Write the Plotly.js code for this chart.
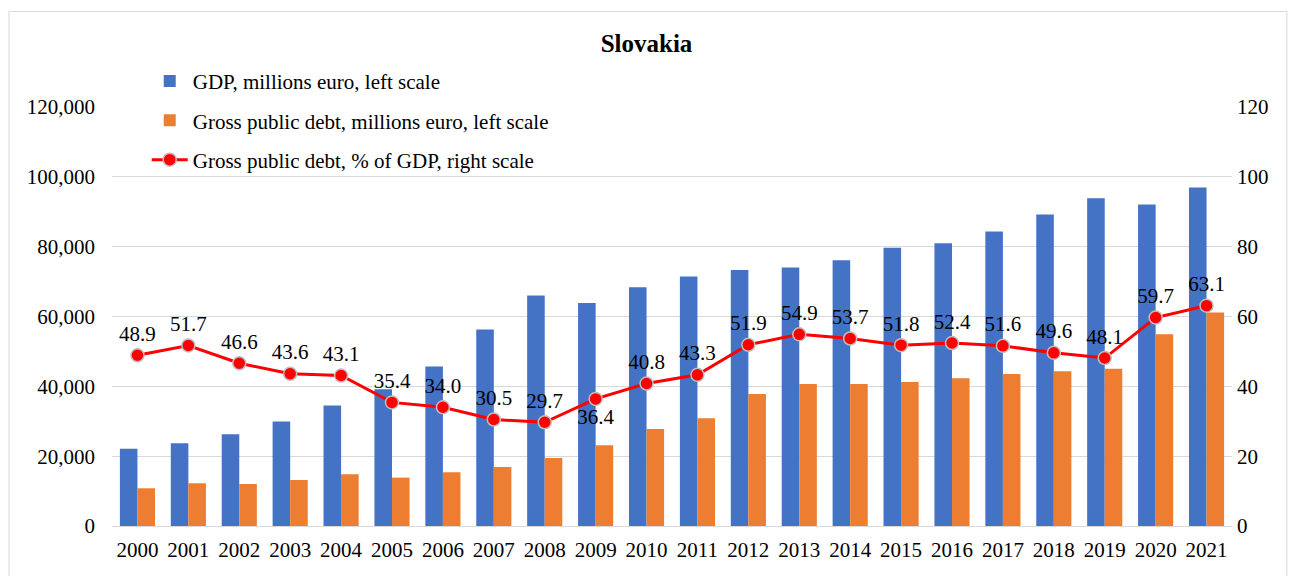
<!DOCTYPE html>
<html>
<head>
<meta charset="utf-8">
<script src="https://cdn.plot.ly/plotly-3.0.1.min.js"></script>
<style>html,body{margin:0;padding:0;background:#fff;}#chart{width:1293px;height:576px;}</style>
</head>
<body>
<div id="chart"></div>
<script>
const years = ['2000','2001','2002','2003','2004','2005','2006','2007','2008','2009','2010','2011','2012','2013','2014','2015','2016','2017','2018','2019','2020','2021'];
const gdp = [22150,23700,26270,29900,34480,39170,45650,56250,66000,63900,68400,71430,73350,74010,76130,79660,81000,84330,89200,93900,92060,96930];
const debt = [10800,12240,12030,13180,14800,13850,15380,16900,19480,23120,27800,30860,37820,40690,40690,41260,42320,43550,44330,45070,54930,61120];
const debtPct = [48.9,51.7,46.6,43.6,43.1,35.4,34.0,30.5,29.7,36.4,40.8,43.3,51.9,54.9,53.7,51.8,52.4,51.6,49.6,48.1,59.7,63.1];
const labelPos = debtPct.map((v,i)=> years[i]==='2009' ? 'bottom center' : 'top center');

const FAM = 'Liberation Serif, Times New Roman, serif';
const font = {family:FAM, size:21, color:'#000'};

const traces = [
  {type:'bar', x:years, y:gdp, name:'GDP, millions euro, left scale',
   marker:{color:'#4472C4'}, legendgroup:'a', hoverinfo:'y'},
  {type:'bar', x:years, y:debt, name:'Gross public debt, millions euro, left scale',
   marker:{color:'#ED7D31'}, legendgroup:'b', hoverinfo:'y'},
  {type:'scatter', mode:'lines+markers+text', x:years, y:debtPct, yaxis:'y2',
   name:'Gross public debt, % of GDP, right scale', legendgroup:'c',
   line:{color:'#FF0000', width:3},
   marker:{color:'#FF0000', size:13, line:{color:'#BFBFBF', width:1.5}},
   texttemplate:'%{y:.1f}', textposition:labelPos,
   textfont:font, cliponaxis:false}
];

const layout = {
  width:1293, height:576,
  margin:{l:112, r:61, t:107, b:50, autoexpand:false},
  paper_bgcolor:'#fff', plot_bgcolor:'#fff',
  font:font,
  title:{text:'<b>Slovakia</b>', x:0.5, xanchor:'center', y:0.925, yanchor:'middle',
         font:{family:FAM, size:25, color:'#000'}},
  barmode:'group', bargap:0.31, bargroupgap:0,
  showlegend:true,
  legend:{x:0.031, y:1.11, xanchor:'left', yanchor:'top', bgcolor:'rgba(0,0,0,0)',
          font:font, tracegroupgap:9, traceorder:'grouped', itemwidth:36},
  xaxis:{type:'category', range:[-0.5, years.length-0.5], showgrid:false, showline:true,
         linecolor:'#D9D9D9', linewidth:1, ticks:'', tickfont:font, fixedrange:true, automargin:false,
         ticklabelstandoff:5},
  yaxis:{range:[0,120000], dtick:20000, tickformat:',', showgrid:true, gridcolor:'#D9D9D9',
         gridwidth:1, zeroline:false, showline:false, ticks:'', ticklabelstandoff:16, tickfont:font,
         automargin:false},
  yaxis2:{range:[0,120], dtick:20, overlaying:'y', side:'right', showgrid:false, zeroline:false,
          showline:false, ticks:'', tickfont:font, ticklabelstandoff:4, automargin:false},
  shapes:[{type:'rect', xref:'paper', yref:'paper', x0:-0.092, x1:1.049, y0:-0.14, y1:1.228,
           line:{color:'#D9D9D9', width:1}, fillcolor:'rgba(0,0,0,0)', layer:'below'}]
};

Plotly.newPlot('chart', traces, layout, {displayModeBar:false, staticPlot:true});
</script>
</body>
</html>
